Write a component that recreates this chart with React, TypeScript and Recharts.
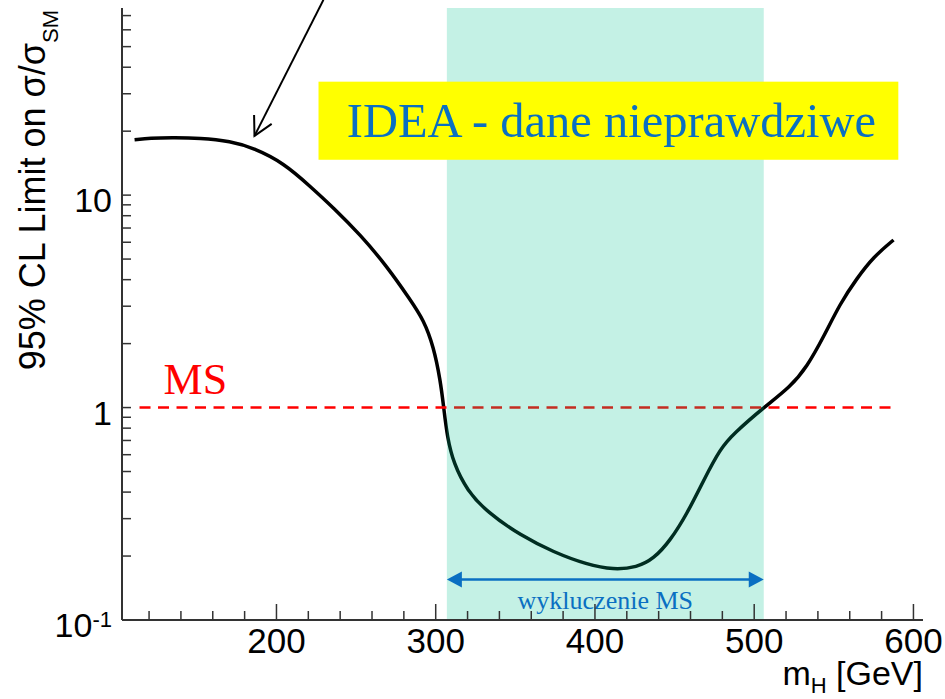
import React from 'react';
import { ComposedChart, Line, XAxis, YAxis, ReferenceArea, ReferenceLine, Label } from 'recharts';

// expected 95% CL limit curve
const massGeV = [
  110.9, 120.9, 133.5, 152.3, 171.1, 185.8, 204.6, 221.3, 236.0, 252.7,
  269.5, 284.1, 292.5, 298.7, 302.9, 305.0, 307.2, 311.3, 319.7, 332.3,
  353.2, 374.1, 395.0, 411.7, 426.4, 436.9, 447.3, 457.8, 468.2, 478.7,
  487.1, 505.9, 522.7, 533.1, 543.6, 554.0, 564.5, 575.0, 587.5,
];
const limitRatio = [
  18.24, 18.53, 18.63, 18.57, 17.94, 16.66, 14.16, 10.98, 8.69, 6.50,
  4.61, 3.21, 2.58, 1.93, 1.345, 1.0065, 0.727, 0.544, 0.407, 0.322,
  0.250, 0.2084, 0.1823, 0.1721, 0.177, 0.194, 0.2366, 0.316, 0.454, 0.641,
  0.754, 1.0, 1.251, 1.554, 2.153, 3.094, 4.06, 5.13, 6.15,
];

const xTicks = [120, 140, 160, 180, 200, 220, 240, 260, 280, 300, 320, 340, 360, 380, 400,
  420, 440, 460, 480, 500, 520, 540, 560, 580, 600];
const xMajor = [200, 300, 400, 500, 600];
const yTicks = [0.1, 0.2, 0.3, 0.4, 0.5, 0.6, 0.7, 0.8, 0.9, 1, 2, 3, 4, 5, 6, 7, 8, 9, 10,
  20, 30, 40, 50, 60, 70];
const yMajor = [0.1, 1, 10];

const exclusionBand = [307, 506];
const smLine = { from: 114, to: 590, level: 1 };
const exclusionArrowLevel = 0.155;
const ideaBox = { x1: 226.4, x2: 590.5, y1: 14.67, y2: 34.2 };
const pointerArrow = [{ x: 229.5, y: 83 }, { x: 186.2, y: 19 }];

const data = massGeV.map((m, i) => ({ m, limit: limitRatio[i] }));

const SANS = 'Liberation Sans, Arial, Helvetica, sans-serif';
const SERIF = 'Liberation Serif, Times New Roman, serif';
const AXIS = '#333';
const BLUE = '#0a6fc2';

const LeftTick = (props: any) => {
  const { x, y, payload } = props;
  const v = payload.value;
  const major = yMajor.includes(v);
  return (
    <g>
      <line x1={x} x2={x + 9} y1={y} y2={y} stroke={AXIS} strokeWidth={1.5} />
      {major && (
        <text x={x - 10} y={y + 17} textAnchor="end" fontFamily={SANS} fontSize={34} fill="#000">
          {v === 0.1 ? (
            <>
              10<tspan dy={-10} fontSize={22}>-1</tspan>
            </>
          ) : String(v)}
        </text>
      )}
    </g>
  );
};

const RightTick = (props: any) => {
  const { x, y } = props;
  return <line x1={x} x2={x - 8} y1={y} y2={y} stroke={AXIS} strokeWidth={1.5} />;
};

const BottomTick = (props: any) => {
  const { x, y, payload } = props;
  const major = xMajor.includes(payload.value);
  return (
    <g>
      <line x1={x} x2={x} y1={y} y2={y - (major ? 16 : 9)} stroke={AXIS} strokeWidth={1.5} />
      {major && (
        <text x={x} y={y + 33} textAnchor="middle" fontFamily={SANS} fontSize={35} fill="#000">
          {payload.value}
        </text>
      )}
    </g>
  );
};

const TopTick = (props: any) => {
  const { x, y } = props;
  return <line x1={x} x2={x} y1={y} y2={y + 6} stroke={AXIS} strokeWidth={1.5} />;
};

const XTitle = (props: any) => {
  const vb = props.viewBox;
  return (
    <text x={vb.x + vb.width} y={vb.y + 65} textAnchor="end" fontFamily={SANS} fontSize={34} fill="#000">
      m<tspan dy={8} fontSize={22}>H</tspan>
      <tspan dy={-8}> [GeV]</tspan>
    </text>
  );
};

const YTitle = () => (
  <text x={45} y={10} transform="rotate(-90, 45, 10)" textAnchor="end" fontFamily={SANS} fontSize={36} fill="#000">
    95% CL Limit on σ/σ<tspan dy={13} fontSize={22}>SM</tspan>
  </text>
);

const SmLineShape = (p: any) => (
  <g>
    <line x1={p.x1} y1={p.y1} x2={p.x2} y2={p.y2} stroke="#ff0000" strokeWidth={2.5} strokeDasharray="11 7.5" />
    <text x={p.x1 + 24} y={p.y1 - 14} fontFamily={SERIF} fontSize={44} fill="#ff0000">MS</text>
  </g>
);

const ExclusionArrowShape = (p: any) => {
  const head = 15;
  const half = 8;
  const { x1, y1, x2 } = p;
  return (
    <g>
      <line x1={x1 + head - 2} x2={x2 - head + 2} y1={y1} y2={y1} stroke={BLUE} strokeWidth={2.5} />
      <polygon points={`${x1},${y1} ${x1 + head},${y1 - half} ${x1 + head},${y1 + half}`} fill={BLUE} />
      <polygon points={`${x2},${y1} ${x2 - head},${y1 - half} ${x2 - head},${y1 + half}`} fill={BLUE} />
      <text x={(x1 + x2) / 2} y={y1 + 29} textAnchor="middle" fontFamily={SERIF} fontSize={26} fill={BLUE}>
        wykluczenie MS
      </text>
    </g>
  );
};

const PointerShape = (p: any) => {
  const { x1, y1, x2, y2 } = p;
  const ang = Math.atan2(y1 - y2, x1 - x2);
  const len = 21;
  const spread = (28 * Math.PI) / 180;
  const a1 = { x: x2 + len * Math.cos(ang + spread), y: y2 + len * Math.sin(ang + spread) };
  const a2 = { x: x2 + len * Math.cos(ang - spread), y: y2 + len * Math.sin(ang - spread) };
  return (
    <g>
      <line x1={x1} y1={y1} x2={x2} y2={y2} stroke="#000" strokeWidth={2} />
      <polyline points={`${a1.x},${a1.y} ${x2},${y2} ${a2.x},${a2.y}`} fill="none" stroke="#000" strokeWidth={2} />
    </g>
  );
};

const IdeaBoxShape = (p: any) => (
  <g>
    <rect x={p.x} y={p.y} width={p.width} height={p.height} fill="#ffff00" />
    <text x={p.x + p.width / 2 + 3} y={p.y + p.height / 2 + 16} textAnchor="middle" fontFamily={SERIF} fontSize={48.5} fill={BLUE}>
      IDEA - dane nieprawdziwe
    </text>
  </g>
);

export default function App() {
  return (
    <div style={{ position: 'absolute', left: 0, top: 0, width: 945, height: 699, background: '#fff' }}>
      <ComposedChart width={945} height={699} data={data} margin={{ top: 8, right: 22, bottom: 0, left: 0 }}>
        <XAxis
          dataKey="m" type="number" domain={[103, 606]} allowDataOverflow ticks={xTicks} interval={0}
          height={79} tickSize={0} tickMargin={0} tickLine={false} tick={<BottomTick />}
          axisLine={{ stroke: AXIS, strokeWidth: 2 }}
        >
          <Label content={<XTitle />} />
        </XAxis>
        <XAxis
          xAxisId="top" orientation="top" type="number" domain={[103, 606]} allowDataOverflow ticks={xTicks}
          interval={0} height={0} tickSize={0} tickMargin={0} tickLine={false} tick={<TopTick />}
          axisLine={{ stroke: AXIS, strokeWidth: 2 }}
        />
        <YAxis
          scale="log" type="number" domain={[0.1, 76]} allowDataOverflow ticks={yTicks} interval={0}
          width={122} tickSize={0} tickMargin={0} tickLine={false} tick={<LeftTick />}
          axisLine={{ stroke: AXIS, strokeWidth: 2 }}
        >
          <Label content={<YTitle />} />
        </YAxis>
        <YAxis
          yAxisId="right" orientation="right" scale="log" type="number" domain={[0.1, 76]} allowDataOverflow
          ticks={yTicks} interval={0} width={0} tickSize={0} tickMargin={0} tickLine={false} tick={<RightTick />}
          axisLine={{ stroke: AXIS, strokeWidth: 2 }}
        />
        <Line
          dataKey="limit" type="basis" stroke="#000" strokeWidth={3.5} dot={false}
          activeDot={false} isAnimationActive={false}
        />
        <ReferenceLine
          segment={[{ x: smLine.from, y: smLine.level }, { x: smLine.to, y: smLine.level }]}
          shape={SmLineShape} ifOverflow="visible" zIndex={410}
        />
        <ReferenceArea
          x1={exclusionBand[0]} x2={exclusionBand[1]} fill="#00c28e" fillOpacity={0.23}
          stroke="none" zIndex={450}
        />
        <ReferenceArea
          x1={ideaBox.x1} x2={ideaBox.x2} y1={ideaBox.y1} y2={ideaBox.y2}
          shape={IdeaBoxShape} zIndex={460}
        />
        <ReferenceLine
          segment={[{ x: exclusionBand[0], y: exclusionArrowLevel }, { x: exclusionBand[1], y: exclusionArrowLevel }]}
          shape={ExclusionArrowShape} ifOverflow="visible" zIndex={470}
        />
        <ReferenceLine
          segment={pointerArrow} shape={PointerShape} ifOverflow="visible" zIndex={480}
        />
      </ComposedChart>
    </div>
  );
}
